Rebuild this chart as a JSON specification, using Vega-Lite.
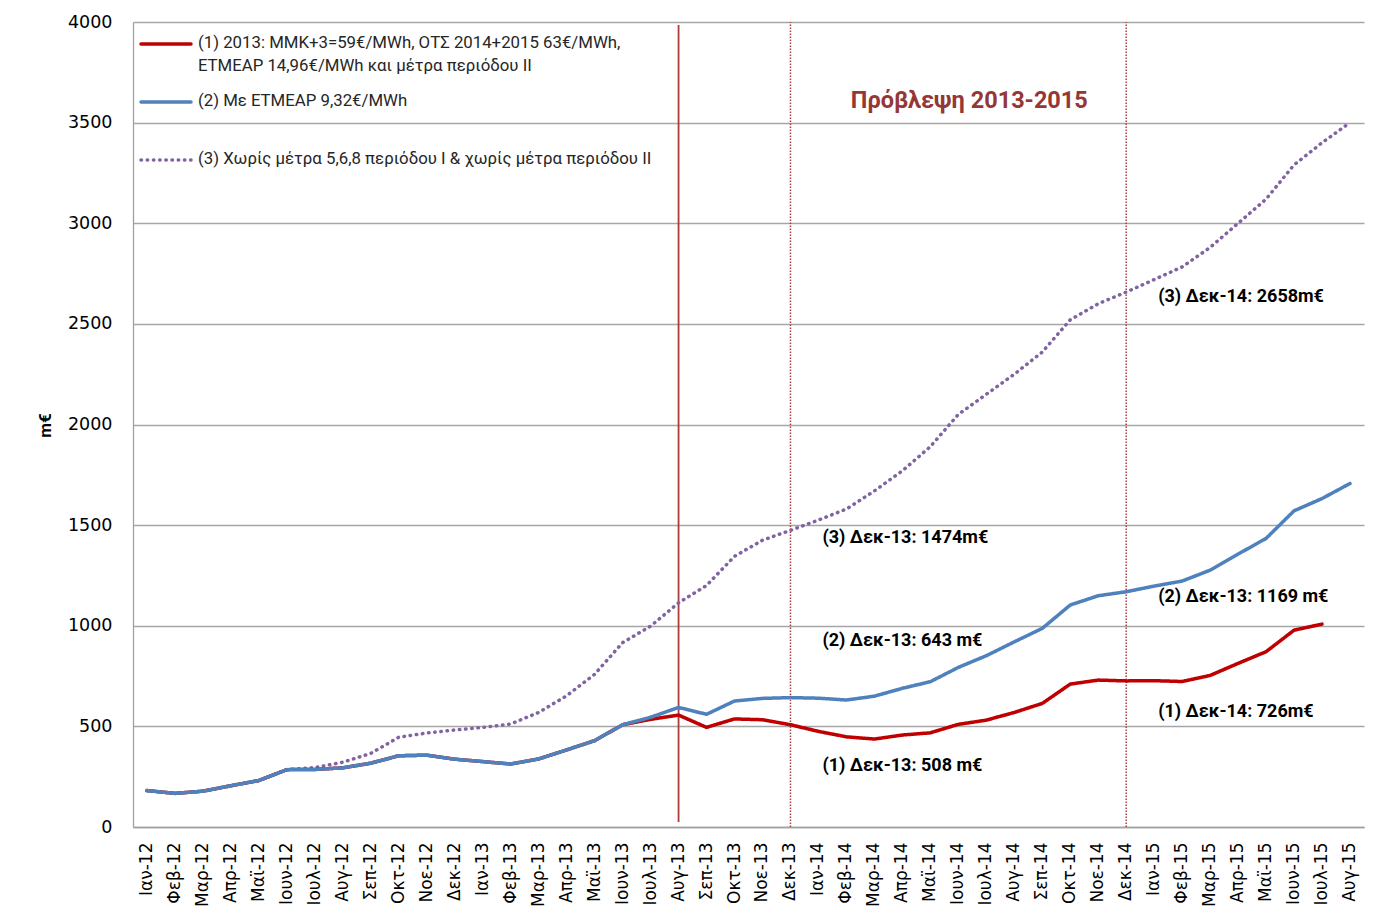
{
  "$schema": "https://vega.github.io/schema/vega-lite/v6.json",
  "width": 1231,
  "height": 805,
  "autosize": {"type": "none"},
  "padding": {"left": 133, "top": 22, "right": 36, "bottom": 90},
  "background": "white",
  "config": {"view": {"stroke": null}, "font": "Roboto"},
  "datasets": {
    "monthly": [
      {"month": "Ιαν-12", "s1": 181, "s2": 181, "s3": 181},
      {"month": "Φεβ-12", "s1": 167, "s2": 167, "s3": 167},
      {"month": "Μαρ-12", "s1": 178, "s2": 178, "s3": 178},
      {"month": "Απρ-12", "s1": 205, "s2": 205, "s3": 205},
      {"month": "Μαϊ-12", "s1": 231, "s2": 231, "s3": 231},
      {"month": "Ιουν-12", "s1": 285, "s2": 285, "s3": 285},
      {"month": "Ιουλ-12", "s1": 286, "s2": 286, "s3": 295},
      {"month": "Αυγ-12", "s1": 294, "s2": 294, "s3": 322},
      {"month": "Σεπ-12", "s1": 317, "s2": 317, "s3": 366},
      {"month": "Οκτ-12", "s1": 354, "s2": 354, "s3": 446},
      {"month": "Νοε-12", "s1": 357, "s2": 357, "s3": 467},
      {"month": "Δεκ-12", "s1": 337, "s2": 337, "s3": 482},
      {"month": "Ιαν-13", "s1": 325, "s2": 325, "s3": 495},
      {"month": "Φεβ-13", "s1": 313, "s2": 313, "s3": 512},
      {"month": "Μαρ-13", "s1": 338, "s2": 338, "s3": 569},
      {"month": "Απρ-13", "s1": 383, "s2": 383, "s3": 652},
      {"month": "Μαϊ-13", "s1": 429, "s2": 429, "s3": 759},
      {"month": "Ιουν-13", "s1": 508, "s2": 508, "s3": 916},
      {"month": "Ιουλ-13", "s1": 535, "s2": 545, "s3": 998},
      {"month": "Αυγ-13", "s1": 556, "s2": 594, "s3": 1114},
      {"month": "Σεπ-13", "s1": 495, "s2": 560, "s3": 1200},
      {"month": "Οκτ-13", "s1": 537, "s2": 626, "s3": 1345},
      {"month": "Νοε-13", "s1": 533, "s2": 639, "s3": 1425},
      {"month": "Δεκ-13", "s1": 508, "s2": 643, "s3": 1474},
      {"month": "Ιαν-14", "s1": 475, "s2": 640, "s3": 1525},
      {"month": "Φεβ-14", "s1": 448, "s2": 631, "s3": 1580},
      {"month": "Μαρ-14", "s1": 437, "s2": 650, "s3": 1670},
      {"month": "Απρ-14", "s1": 457, "s2": 689, "s3": 1770},
      {"month": "Μαϊ-14", "s1": 468, "s2": 722, "s3": 1890},
      {"month": "Ιουν-14", "s1": 510, "s2": 793, "s3": 2050},
      {"month": "Ιουλ-14", "s1": 531, "s2": 851, "s3": 2150},
      {"month": "Αυγ-14", "s1": 569, "s2": 920, "s3": 2250},
      {"month": "Σεπ-14", "s1": 614, "s2": 987, "s3": 2360},
      {"month": "Οκτ-14", "s1": 710, "s2": 1103, "s3": 2520},
      {"month": "Νοε-14", "s1": 730, "s2": 1149, "s3": 2600},
      {"month": "Δεκ-14", "s1": 726, "s2": 1169, "s3": 2658},
      {"month": "Ιαν-15", "s1": 727, "s2": 1197, "s3": 2720},
      {"month": "Φεβ-15", "s1": 723, "s2": 1222, "s3": 2783},
      {"month": "Μαρ-15", "s1": 753, "s2": 1276, "s3": 2880},
      {"month": "Απρ-15", "s1": 813, "s2": 1356, "s3": 3000},
      {"month": "Μαϊ-15", "s1": 871, "s2": 1434, "s3": 3120},
      {"month": "Ιουν-15", "s1": 978, "s2": 1571, "s3": 3290},
      {"month": "Ιουλ-15", "s1": 1008, "s2": 1632, "s3": 3400},
      {"month": "Αυγ-15", "s2": 1707, "s3": 3500}
    ],
    "notes": [
      {"month": "Ιαν-14", "value": 1436, "label": "(3) Δεκ-13: 1474m€"},
      {"month": "Ιαν-14", "value": 924, "label": "(2) Δεκ-13: 643 m€"},
      {"month": "Ιαν-14", "value": 303, "label": "(1) Δεκ-13: 508 m€"},
      {"month": "Ιαν-15", "value": 2634, "label": "(3) Δεκ-14: 2658m€"},
      {"month": "Ιαν-15", "value": 1143, "label": "(2) Δεκ-13: 1169 m€"},
      {"month": "Ιαν-15", "value": 571, "label": "(1) Δεκ-14: 726m€"}
    ]
  },
  "encoding": {
    "x": {
      "field": "month",
      "type": "ordinal",
      "scale": {
        "domain": ["Ιαν-12","Φεβ-12","Μαρ-12","Απρ-12","Μαϊ-12","Ιουν-12","Ιουλ-12","Αυγ-12","Σεπ-12","Οκτ-12","Νοε-12","Δεκ-12",
                   "Ιαν-13","Φεβ-13","Μαρ-13","Απρ-13","Μαϊ-13","Ιουν-13","Ιουλ-13","Αυγ-13","Σεπ-13","Οκτ-13","Νοε-13","Δεκ-13",
                   "Ιαν-14","Φεβ-14","Μαρ-14","Απρ-14","Μαϊ-14","Ιουν-14","Ιουλ-14","Αυγ-14","Σεπ-14","Οκτ-14","Νοε-14","Δεκ-14",
                   "Ιαν-15","Φεβ-15","Μαρ-15","Απρ-15","Μαϊ-15","Ιουν-15","Ιουλ-15","Αυγ-15"],
        "paddingInner": 0,
        "paddingOuter": 0
      },
      "axis": {
        "title": null,
        "labelAngle": -90,
        "labelFont": "DejaVu Sans",
        "labelFontSize": 17,
        "labelColor": "#000000",
        "labelPadding": 15,
        "ticks": false,
        "grid": false,
        "domainColor": "#A0A0A0",
        "domainWidth": 1.3,
        "labelOverlap": false
      }
    }
  },
  "layer": [
    {
      "data": {"values": [{"month": "Δεκ-13"}, {"month": "Δεκ-14"}]},
      "mark": {"type": "rule", "color": "#A8403D", "strokeWidth": 1.5, "strokeDash": [1.5, 1.5]},
      "encoding": {"y": {"datum": 0, "type": "quantitative"}, "y2": {"datum": 4000}}
    },
    {
      "data": {"values": [{"month": "Αυγ-13"}]},
      "mark": {"type": "rule", "color": "#A93D3A", "strokeWidth": 1.8},
      "encoding": {"y": {"datum": 25, "type": "quantitative"}, "y2": {"datum": 3985}}
    },
    {
      "data": {"name": "monthly"},
      "transform": [{"fold": ["s3", "s1", "s2"], "as": ["series", "value"]}],
      "mark": {"type": "line", "strokeWidth": 3.5, "strokeCap": "round", "strokeJoin": "round"},
      "encoding": {
        "y": {
          "field": "value",
          "type": "quantitative",
          "scale": {"domain": [0, 4000], "nice": false},
          "axis": {
            "values": [0, 500, 1000, 1500, 2000, 2500, 3000, 3500, 4000],
            "format": "d",
            "title": "m€",
            "titleFont": "Roboto",
            "titleFontWeight": "bold",
            "titleFontSize": 17,
            "titleColor": "#000000",
            "titleAngle": -90,
            "titleX": -88,
            "titleY": 403,
            "titleAlign": "center",
            "titleBaseline": "middle",
            "labelFont": "DejaVu Sans",
            "labelFontSize": 17.5,
            "labelColor": "#000000",
            "labelPadding": 21,
            "ticks": false,
            "grid": true,
            "gridColor": "#A6A6A6",
            "gridWidth": 1.3,
            "domainColor": "#A0A0A0",
            "domainWidth": 1.3
          }
        },
        "color": {
          "field": "series",
          "type": "nominal",
          "scale": {"domain": ["s1", "s2", "s3"], "range": ["#C00000", "#4F81BD", "#8064A2"]},
          "legend": {
            "orient": "none",
            "legendX": 6,
            "legendY": -5,
            "title": null,
            "symbolType": "stroke",
            "symbolSize": 2500,
            "symbolStrokeWidth": 3.5,
            "labelFont": "Roboto",
            "labelFontSize": 16.8,
            "labelColor": "#262626",
            "labelLimit": 800,
            "labelOffset": 5,
            "labelBaseline": "top",
            "rowPadding": -0.5,
            "gridAlign": "all",
            "labelExpr": "datum.value == 's1' ? ['(1) 2013: ΜΜΚ+3=59€/MWh, ΟΤΣ 2014+2015 63€/MWh,', 'ΕΤΜΕΑΡ 14,96€/MWh και μέτρα περιόδου ΙΙ'] : datum.value == 's2' ? '(2) Με ΕΤΜΕΑΡ 9,32€/MWh' : '(3) Χωρίς μέτρα 5,6,8 περιόδου Ι & χωρίς μέτρα περιόδου ΙΙ'",
            "encode": {
              "labels": {"update": {"dy": {"value": -9}, "lineHeight": {"value": 23}}},
              "symbols": {"update": {"strokeCap": {"value": "round"}}}
            }
          }
        },
        "strokeDash": {
          "field": "series",
          "type": "nominal",
          "scale": {"domain": ["s1", "s2", "s3"], "range": [[1, 0], [1, 0], [0.5, 5.7]]}
        }
      }
    },
    {
      "data": {"name": "notes"},
      "mark": {"type": "text", "align": "left", "baseline": "middle", "font": "Roboto", "fontWeight": "bold", "fontSize": 18, "color": "#000000", "dx": 4},
      "encoding": {
        "y": {"field": "value", "type": "quantitative"},
        "text": {"field": "label"}
      }
    },
    {
      "data": {"values": [{"month": "Ιουν-14", "value": 3608, "label": "Πρόβλεψη 2013-2015"}]},
      "mark": {"type": "text", "align": "center", "baseline": "middle", "font": "Roboto", "fontWeight": "bold", "fontSize": 23.5, "color": "#953735", "dx": 11},
      "encoding": {
        "y": {"field": "value", "type": "quantitative"},
        "text": {"field": "label"}
      }
    }
  ]
}
